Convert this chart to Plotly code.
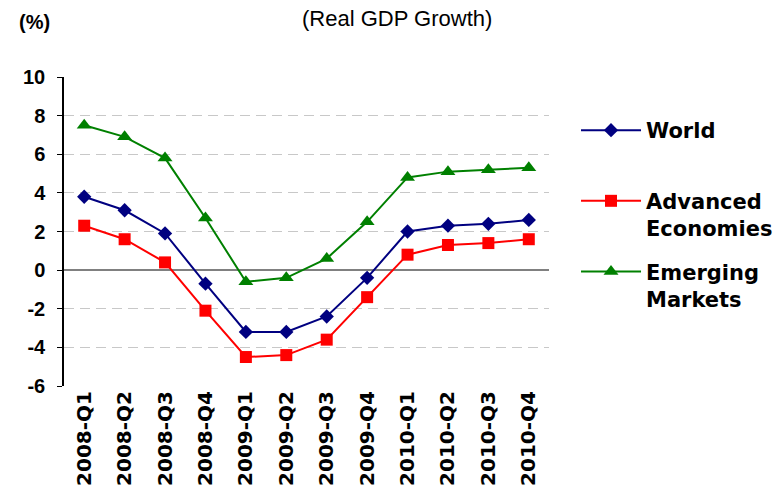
import plotly.graph_objects as go

quarters = ["2008-Q1", "2008-Q2", "2008-Q3", "2008-Q4",
            "2009-Q1", "2009-Q2", "2009-Q3", "2009-Q4",
            "2010-Q1", "2010-Q2", "2010-Q3", "2010-Q4"]
world = [3.8, 3.1, 1.9, -0.7, -3.2, -3.2, -2.4, -0.4, 2.0, 2.3, 2.4, 2.6]
advanced = [2.3, 1.6, 0.4, -2.1, -4.5, -4.4, -3.6, -1.4, 0.8, 1.3, 1.4, 1.6]
emerging = [7.5, 6.9, 5.8, 2.7, -0.6, -0.4, 0.6, 2.5, 4.8, 5.1, 5.2, 5.3]
y_ticks = [-6, -4, -2, 0, 2, 4, 6, 8, 10]

SANS = "Liberation Sans, Arial, sans-serif"
WIDE = "DejaVu Sans, sans-serif"

# Each legend label takes two lines so that all entries are evenly spaced
series = [
    ("World<br>&#160;", world, "#000080", "diamond", 11),
    ("Advanced<br>Economies", advanced, "#FF0000", "square", 12),
    ("Emerging<br>Markets", emerging, "#008000", "triangle-up", 13),
]

fig = go.Figure()
for i, (name, vals, color, symbol, size) in enumerate(series):
    fig.add_trace(go.Scatter(
        x=quarters, y=vals, name=name, mode="lines+markers",
        line=dict(color=color, width=2),
        marker=dict(symbol=symbol, size=size, color=color),
        legendgroup=f"g{i}",
    ))

fig.update_layout(
    width=776, height=492,
    margin=dict(l=64, r=227, t=77, b=106, autoexpand=False),
    paper_bgcolor="white", plot_bgcolor="white",
    font=dict(family=SANS, color="black"),
    showlegend=True,
    legend=dict(
        x=1.0557, xanchor="left", y=0.893, yanchor="top",
        valign="top", traceorder="grouped", tracegroupgap=13,
        font=dict(size=21, family=WIDE, weight="bold"),
        itemwidth=60, bgcolor="rgba(0,0,0,0)",
    ),
    xaxis=dict(
        type="category", range=[-0.5, 11.5],
        tickangle=-90, showgrid=False, zeroline=False,
        showline=False, ticks="",
        tickfont=dict(size=20, family=WIDE, weight="bold"),
    ),
    yaxis=dict(
        range=[-6, 10], tickvals=y_ticks,
        ticktext=[str(v) for v in y_ticks],
        showgrid=True, gridcolor="#c8c8c8", griddash="10px,6px", gridwidth=1,
        zeroline=True, zerolinecolor="#808080", zerolinewidth=2,
        showline=True, linecolor="black", linewidth=1.5,
        ticks="outside", ticklen=5, tickcolor="black",
        ticklabelstandoff=8,
        tickfont=dict(size=20, family=SANS, weight="bold"),
    ),
    annotations=[
        dict(text="(%)", xref="paper", yref="paper", x=-0.097, y=1.178,
             xanchor="left", yanchor="middle", showarrow=False,
             font=dict(size=20, family=SANS, weight="bold")),
        dict(text="(Real GDP Growth)", xref="paper", yref="paper",
             x=0.687, y=1.188, xanchor="center", yanchor="middle",
             showarrow=False, font=dict(size=22, family=SANS)),
    ],
)

fig.write_html("out.html")
